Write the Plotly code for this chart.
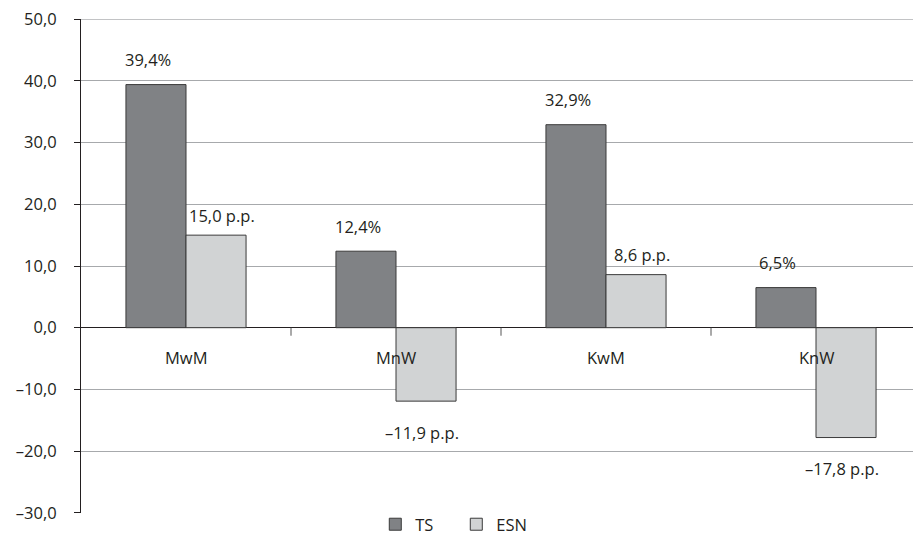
import plotly.graph_objects as go

categories = ["MwM", "MnW", "KwM", "KnW"]
ts_values = [39.4, 12.4, 32.9, 6.5]
esn_values = [15.0, -11.9, 8.6, -17.8]
ts_labels = ["39,4%", "12,4%", "32,9%", "6,5%"]
esn_labels = ["15,0 p.p.", "–11,9 p.p.", "8,6 p.p.", "–17,8 p.p."]
y_tickvals = [50, 40, 30, 20, 10, 0, -10, -20, -30]
y_ticktext = ["50,0", "40,0", "30,0", "20,0", "10,0", "0,0", "–10,0", "–20,0", "–30,0"]

FONT = "'Open Sans', 'Noto Sans', sans-serif"
FS = 16.5
TXT = "#231f20"
DARK = "#808285"
LIGHT = "#d1d3d4"
BW = 0.286

xs = list(range(len(categories)))

fig = go.Figure()
fig.add_trace(go.Bar(
    x=xs, y=ts_values, name="TS", width=BW, offset=-BW,
    marker=dict(color=DARK, line=dict(color="#3a3a3a", width=1)),
))
fig.add_trace(go.Bar(
    x=xs, y=esn_values, name="ESN", width=BW, offset=0,
    marker=dict(color=LIGHT, line=dict(color="#3a3a3a", width=1)),
))

annotations = []
for i, (v, t) in enumerate(zip(ts_values, ts_labels)):
    annotations.append(dict(x=i - BW / 2, y=v, text=t, showarrow=False,
                            xref="x", yref="y", xshift=-8, yshift=25,
                            yanchor="middle", font=dict(size=FS, color=TXT, family=FONT)))
for i, (v, t) in enumerate(zip(esn_values, esn_labels)):
    annotations.append(dict(x=i + BW / 2, y=v, text=t, showarrow=False,
                            xref="x", yref="y", xshift=6 if v > 0 else -4,
                            yshift=20 if v > 0 else -31,
                            yanchor="middle", font=dict(size=FS, color=TXT, family=FONT)))
for i, c in enumerate(categories):
    annotations.append(dict(x=i, y=0, text=c, showarrow=False, xref="x", yref="y",
                            yshift=-30, yanchor="middle",
                            font=dict(size=FS, color=TXT, family=FONT)))

shapes = []
for i in range(len(categories) - 1):
    shapes.append(dict(type="line", xref="x", yref="y", x0=i + 0.5, x1=i + 0.5,
                       y0=0, y1=-1.3, line=dict(color="#555555", width=1)))
# top gridline (at the edge of the plotting area)
shapes.append(dict(type="line", xref="paper", yref="y", x0=0, x1=1,
                   y0=max(y_tickvals), y1=max(y_tickvals),
                   line=dict(color="#a7a9ac", width=1), layer="below"))

# page body has an 8px default margin, so the figure is sized to fit the window
fig.update_layout(
    width=913, height=534,
    margin=dict(l=73, r=0, t=11, b=29, autoexpand=False),
    paper_bgcolor="white", plot_bgcolor="white",
    barmode="overlay",
    font=dict(family=FONT, size=FS, color=TXT),
    showlegend=True,
    legend=dict(orientation="h", xref="container", yref="container",
                x=0.491, xanchor="center", y=0.0, yanchor="bottom",
                font=dict(size=FS, color=TXT, family=FONT),
                itemwidth=30, tracegroupgap=0, entrywidth=36),
    annotations=annotations,
    shapes=shapes,
    xaxis=dict(range=[-0.5, 3.5], showticklabels=False, showgrid=False,
               zeroline=False, showline=False, ticks="", automargin=False),
    yaxis=dict(range=[-30.03, 50.03], tickvals=y_tickvals, ticktext=y_ticktext,
               automargin=False, ticklabeloverflow="allow",
               showgrid=True, gridcolor="#a7a9ac", gridwidth=1,
               zeroline=True, zerolinecolor="#231f20", zerolinewidth=1,
               showline=True, linecolor="#231f20", linewidth=1,
               ticks="outside", ticklen=6, tickcolor="#231f20",
               ticklabelstandoff=14,
               tickfont=dict(size=FS, color=TXT, family=FONT)),
)

fig.write_html("out.html")
